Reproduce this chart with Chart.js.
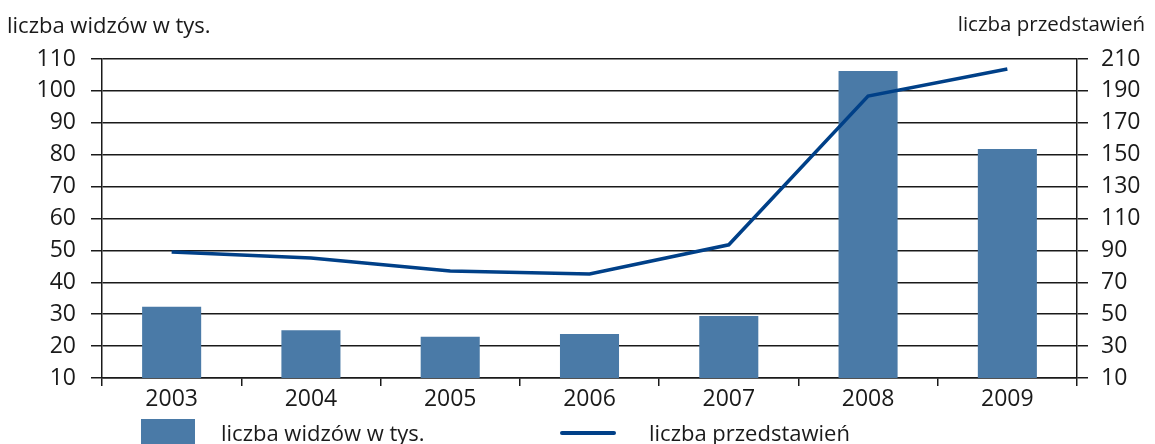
<!DOCTYPE html>
<html><head><meta charset="utf-8">
<script src="https://cdn.jsdelivr.net/npm/chart.js@4/dist/chart.umd.min.js"></script>
<style>
html,body{margin:0;padding:0;background:#fff;overflow:hidden;}
#wrap{position:relative;width:1155px;height:444px;font-family:"Open Sans",sans-serif;color:#1a1a1a;}
canvas{position:absolute;left:0;top:0;}
.t{position:absolute;font-size:22px;white-space:nowrap;line-height:1;}
.sw{position:absolute;}
</style></head>
<body><div id="wrap">
<canvas id="c" width="1155" height="444"></canvas>
<div class="t" id="lt" style="left:7px;top:13px;">liczba widzów w tys.</div>
<div class="t" id="rt" style="right:10px;top:13px;font-size:20.5px;">liczba przedstawień</div>
<div class="sw" style="left:141px;top:419px;width:54px;height:30px;background:#4a7aa7;"></div>
<div class="t" style="left:221px;top:421px;">liczba widzów w tys.</div>
<div class="sw" style="left:560px;top:430.5px;width:56px;height:4px;border-radius:2px;background:#004088;"></div>
<div class="t" style="left:649px;top:421px;">liczba przedstawień</div>
</div>
<script>
const categories = ['2003','2004','2005','2006','2007','2008','2009'];
const widzowie = [32.3, 25.0, 22.9, 23.8, 29.4, 106.2, 81.8];
const przedstawienia = [89, 85.2, 77.1, 75.2, 93.5, 186.8, 203.7];
const leftTicks = [10,20,30,40,50,60,70,80,90,100,110];
const rightTicks = [10,30,50,70,90,110,130,150,170,190,210];

Chart.defaults.font.family = '"Open Sans", sans-serif';
Chart.defaults.font.size = 23;
Chart.defaults.color = '#1a1a1a';

new Chart(document.getElementById('c'), {
  data: {
    labels: categories,
    datasets: [
      {type:'line', label:'liczba przedstawień', data:przedstawienia, yAxisID:'y2',
       borderColor:'#004088', borderWidth:3.5, pointRadius:0, tension:0, order:0},
      {type:'bar', label:'liczba widzów w tys.', data:widzowie, yAxisID:'y',
       backgroundColor:'#4a7aa7', categoryPercentage:1, barPercentage:0.424, order:1}
    ]
  },
  options: {
    responsive:false, animation:false,
    layout:{padding:{top:59,left:0,right:0,bottom:0}},
    plugins:{legend:{display:false}, tooltip:{enabled:false}},
    scales:{
      x:{
        offset:true,
        grid:{offset:true, drawOnChartArea:false, tickLength:8, color:'#1a1a1a', lineWidth:1.5},
        border:{color:'#1a1a1a', width:1.5},
        ticks:{padding:0, maxRotation:0},
        afterFit(s){ s.height = 66; }
      },
      y:{
        position:'left', min:10, max:110,
        afterBuildTicks(s){ s.ticks = leftTicks.map(v=>({value:v})); },
        grid:{color:'#1a1a1a', lineWidth:1.5, tickLength:11},
        border:{color:'#1a1a1a', width:1.5},
        ticks:{padding:15},
        afterFit(s){ s.width = 102; }
      },
      y2:{
        position:'right', min:10, max:210,
        afterBuildTicks(s){ s.ticks = rightTicks.map(v=>({value:v})); },
        grid:{drawOnChartArea:false, color:'#1a1a1a', lineWidth:1.5, tickLength:11},
        border:{color:'#1a1a1a', width:1.5},
        ticks:{padding:13},
        afterFit(s){ s.width = 78; }
      }
    }
  }
});
</script>
</body></html>
